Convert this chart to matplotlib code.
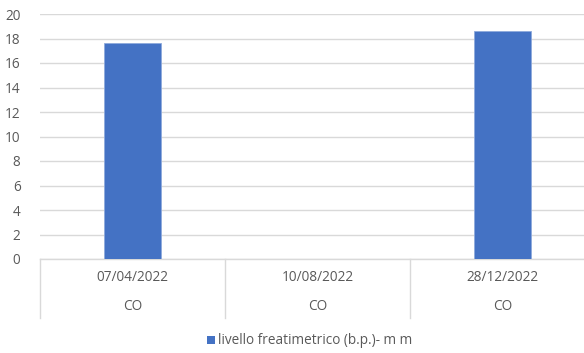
import numpy as np
import matplotlib
matplotlib.use("Agg")
import matplotlib.pyplot as plt
from matplotlib.patches import Rectangle
from matplotlib.transforms import blended_transform_factory

# Data
dates = ["07/04/2022", "10/08/2022", "28/12/2022"]
groups = ["CO", "CO", "CO"]
livello = [17.6, np.nan, 18.6]
y_ticks = [0, 2, 4, 6, 8, 10, 12, 14, 16, 18, 20]
series_name = "livello freatimetrico (b.p.)- m m"

W, H, DPI = 584, 353, 100
plt.rcParams["font.family"] = ["Open Sans", "DejaVu Sans"]
text_col = "#595959"
grid_col = "#D9D9D9"
bar_col = "#4472C4"
fs = 9.8

fig = plt.figure(figsize=(W / DPI, H / DPI), dpi=DPI)
fig.patch.set_facecolor("white")

left, right, top, bottom = 40, 595, 14, 259
ax = fig.add_axes([left / W, 1 - bottom / H, (right - left) / W, (bottom - top) / H])

x = np.arange(len(dates))
ax.bar(x, livello, width=0.31, color=bar_col, edgecolor="#8FAADC", linewidth=0.6,
       zorder=3, label=series_name)

ax.set_xlim(-0.5, len(dates) - 0.5)
ax.set_ylim(0, 20)
ax.set_yticks(y_ticks)
ax.set_yticklabels([str(v) for v in y_ticks])
ax.tick_params(axis="y", length=0, pad=14, labelsize=fs, labelcolor=text_col)
ax.tick_params(axis="x", length=0, labelbottom=False)
ax.yaxis.grid(True, color=grid_col, linewidth=1.0, zorder=0)
for s in ["top", "right", "left"]:
    ax.spines[s].set_visible(False)
ax.spines["bottom"].set_color(grid_col)
ax.spines["bottom"].set_linewidth(1.0)

# Two-level category axis
trans = blended_transform_factory(ax.transData, fig.transFigure)
y_axis = 1 - bottom / H
y_end = 1 - 318 / H
for b in np.arange(-0.5, len(dates), 1.0):
    ax.plot([b, b], [y_axis, y_end], transform=trans, color=grid_col,
            linewidth=1.0, clip_on=False)
for xi, d, g in zip(x, dates, groups):
    fig.text(xi, 1 - 277.5 / H, d, transform=trans, ha="center", va="center",
             fontsize=fs, color=text_col)
    fig.text(xi, 1 - 307 / H, g, transform=trans, ha="center", va="center",
             fontsize=fs, color=text_col)

# Legend
fig.patches.append(Rectangle((207 / W, 1 - 344 / H), 8 / W, 8 / H,
                             transform=fig.transFigure, facecolor=bar_col,
                             edgecolor="none"))
fig.text(218 / W, 1 - 340 / H, series_name, ha="left", va="center",
         fontsize=fs, color=text_col)

fig.savefig("out.png", dpi=DPI, facecolor="white")
